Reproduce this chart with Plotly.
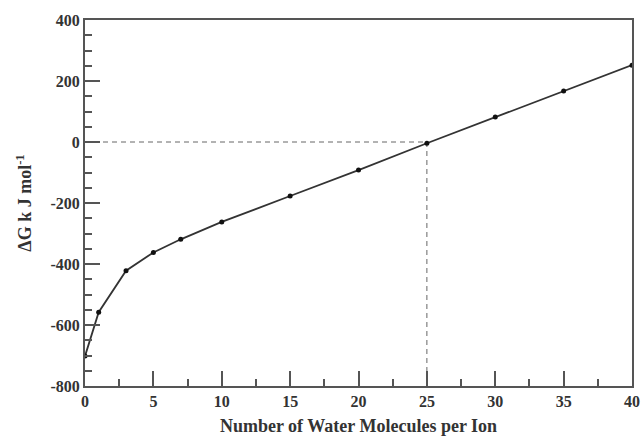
import plotly.graph_objects as go

water = [0, 1, 3, 5, 7, 10, 15, 20, 25, 30, 35, 40]
dG = [-702, -558, -422, -362, -319, -262, -177, -92, -4, 82, 167, 252]

ref_x = 25
ref_y = 0

x_ticks = [0, 5, 10, 15, 20, 25, 30, 35, 40]
y_ticks = [-800, -600, -400, -200, 0, 200, 400]

fam = "Liberation Serif, Times New Roman, serif"
font = dict(family=fam, color="#333", size=16)

fig = go.Figure()
fig.add_trace(go.Scatter(x=[0, ref_x], y=[ref_y, ref_y], mode="lines",
                         line=dict(color="#666", width=1, dash="5px,4px"), hoverinfo="skip"))
fig.add_trace(go.Scatter(x=[ref_x, ref_x], y=[ref_y, -800], mode="lines",
                         line=dict(color="#666", width=1, dash="5px,4px"), hoverinfo="skip"))
fig.add_trace(go.Scatter(x=water, y=dG, mode="lines+markers",
                         line=dict(color="#333", width=1.8),
                         marker=dict(color="#111", size=5)))

axis_common = dict(showgrid=False, zeroline=False, showline=True, linecolor="#555",
                   linewidth=2, mirror=True, ticks="inside", tickcolor="#555",
                   tickwidth=1.8, ticklen=15, automargin=False,
                   tickfont=dict(family=fam, size=16, color="#333"))

fig.update_xaxes(range=[0, 40], tickvals=x_ticks, ticktext=[f"<b>{v}</b>" for v in x_ticks],
                 minor=dict(dtick=2.5, ticks="inside", ticklen=7, tickcolor="#555", tickwidth=1.5),
                 title=dict(text="<b>Number of Water Molecules per Ion</b>",
                            font=dict(family=fam, size=18, color="#333"), standoff=10),
                 **axis_common)
fig.update_yaxes(range=[-800, 400], tickvals=y_ticks, ticktext=[f"<b>{v}</b>" for v in y_ticks],
                 minor=dict(dtick=50, ticks="inside", ticklen=7, tickcolor="#555", tickwidth=1.5),
                 title=dict(text="<b>ΔG k J mol<sup>-1</sup></b>",
                            font=dict(family=fam, size=18, color="#333"), standoff=14),
                 **axis_common)

fig.update_layout(width=641, height=437, margin=dict(l=85, r=9, t=20, b=51),
                  plot_bgcolor="white", paper_bgcolor="white", showlegend=False, font=font)

fig.write_html("out.html", config={"displayModeBar": False},
               post_script="document.body.style.margin='0';document.body.style.overflow='hidden';")
